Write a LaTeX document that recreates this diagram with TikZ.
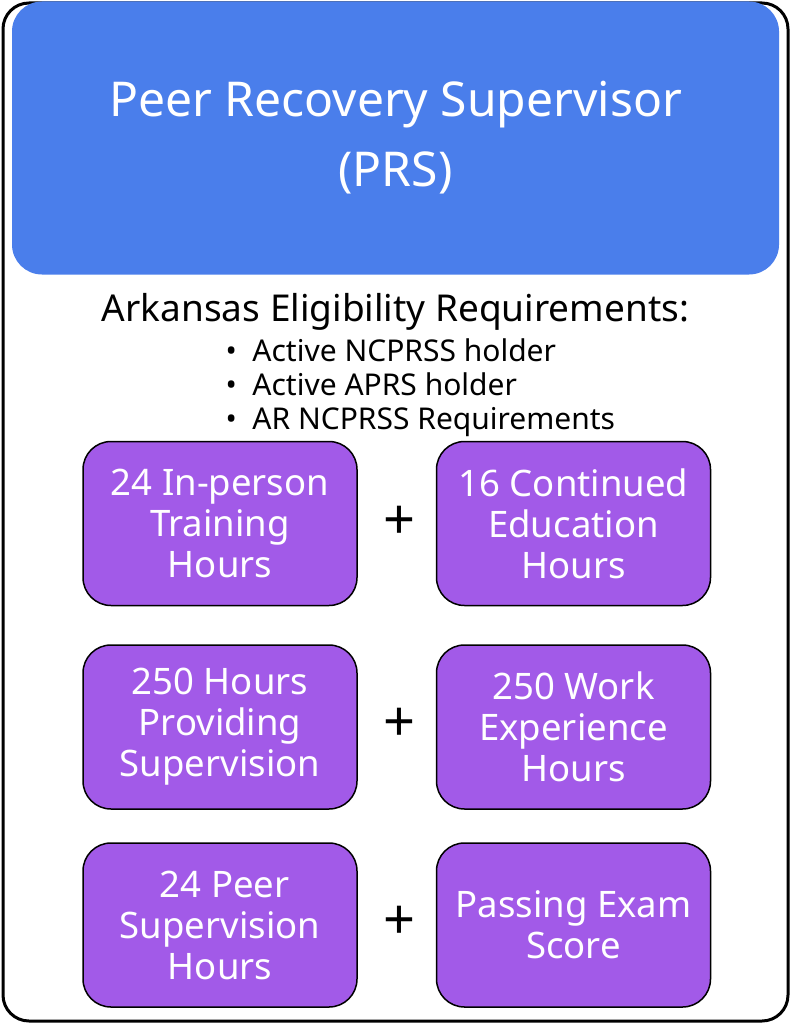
\documentclass[tikz,border=0pt]{standalone}
\usepackage{fontspec}
\setmainfont{Noto Sans}
\definecolor{blu}{HTML}{4A7EEB}
\definecolor{pur}{HTML}{A25AE8}
\begin{document}
\begin{tikzpicture}[x=1pt,y=-1pt,
  pbox/.style={draw=black,line width=1.5pt,fill=pur,rounded corners=28pt,minimum width=274pt,minimum height=164pt,text=white,align=center,font=\fontsize{36.5}{41}\selectfont},
  plus/.style={font=\fontsize{56}{56}\selectfont}]
\useasboundingbox (0,0) rectangle (791,1024);
\node[draw=black,line width=3pt,rounded corners=26pt,minimum width=785pt,minimum height=1018pt] (outer) at (395.5,512) {};
\node[fill=blu,rounded corners=30pt,minimum width=767pt,minimum height=273pt,text=white,align=center,font=\bfseries\fontsize{48}{70}\selectfont] (title) at (395.5,138) {Peer Recovery Supervisor\\(PRS)};
\node[font=\fontsize{37}{40}\selectfont] (req) at (395.5,312) {Arkansas Eligibility Requirements:};
\node[anchor=west,align=left,font=\fontsize{30}{34}\selectfont] (list) at (222,388) {\textbullet\ \ Active NCPRSS holder\\\textbullet\ \ Active APRS holder\\\textbullet\ \ AR NCPRSS Requirements};
\node[pbox] (a1) at (220,523.5) {24 In-person\\Training\\Hours};
\node[pbox] (b1) at (573.5,523.5) {16 Continued\\Education\\Hours};
\node[plus] (p1) at (400,523) {+};
\node[pbox] (a2) at (220,727) {250 Hours\\Providing\\Supervision};
\node[pbox] (b2) at (573.5,727) {250 Work\\Experience\\Hours};
\node[plus] (p2) at (400,725) {+};
\node[pbox] (a3) at (220,925) {\ 24 Peer\\Supervision\\Hours};
\node[pbox] (b3) at (573.5,925) {Passing Exam\\Score};
\node[plus] (p3) at (400,923) {+};
\end{tikzpicture}
\end{document}
